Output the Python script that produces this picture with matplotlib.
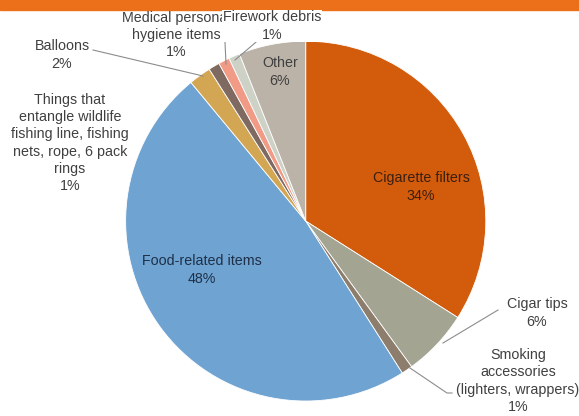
import matplotlib
matplotlib.use("Agg")
import matplotlib.pyplot as plt
from matplotlib.patches import Rectangle

# slices, clockwise from 12 o'clock
names = ["Cigarette filters", "Cigar tips", "Smoking accessories", "Food-related items",
         "Balloons", "Things that entangle wildlife", "Medical personal hygiene items",
         "Firework debris", "Other"]
values = [34, 6, 1, 48, 2, 1, 1, 1, 6]
colors = ["#d35b0c", "#a3a491", "#8d7d6d", "#6fa3d2", "#d3a654", "#7f6a62",
          "#f19b86", "#cdd1c6", "#bbb3a8"]

plt.rcParams['font.family'] = ['Liberation Sans', 'DejaVu Sans']
txt_color = "#404040"

fig = plt.figure(figsize=(5.79, 4.16), dpi=100)
fig.patches.append(Rectangle((0, 0.976), 1, 0.024, transform=fig.transFigure,
                             color="#ec6f1a", zorder=0))

ax = fig.add_axes([0.217, 0.036, 0.622, 0.865])
ax.pie(values, colors=colors, startangle=90, counterclock=False,
       wedgeprops=dict(edgecolor="white", linewidth=0.6))
ax.set_xlim(-1, 1)
ax.set_ylim(-1, 1)
ax.set_aspect("auto")


def px(x, y):
    # pixel position (from top-left) to figure fraction
    return x / 579, 1 - y / 416


def lab(x, y, s, color=txt_color, **kw):
    fig.text(*px(x, y), s, ha="center", va="center", fontsize=10.3,
             color=color, linespacing=1.28, **kw)


def line(pts):
    xs = [p[0] / 579 for p in pts]
    ys = [1 - p[1] / 416 for p in pts]
    fig.add_artist(plt.Line2D(xs, ys, transform=fig.transFigure,
                              color="#8c8c8c", linewidth=0.8))


pct = [f"{v}%" for v in values]

lab(421, 187, f"{names[0]}\n{pct[0]}", color="#3a2010")
lab(202, 270, f"{names[3]}\n{pct[3]}", color="#1e3048")
lab(280, 72, f"{names[8]}\n{pct[8]}")
lab(537, 313, f"{names[1]}\n{pct[1]}")
lab(518, 381, f"Smoking\naccessories\n(lighters, wrappers)\n{pct[2]}")
lab(70, 143, f"Things that\nentangle wildlife\nfishing line, fishing\nnets, rope, 6 pack\nrings\n{pct[5]}")
lab(62, 55, f"{names[4]}\n{pct[4]}")
lab(176, 35, f"Medical personal\nhygiene items\n{pct[6]}")
lab(272, 26, f"{names[7]}\n{pct[7]}", bbox=dict(facecolor="white", edgecolor="none", pad=0.5))

line([(93, 50), (203, 76)])
line([(225, 42), (226, 64)])
line([(262, 37), (235, 60)])
line([(498, 310), (443, 343)])
line([(452, 393), (447, 393), (410, 368)])

fig.savefig("out.png", dpi=100, facecolor="white")
